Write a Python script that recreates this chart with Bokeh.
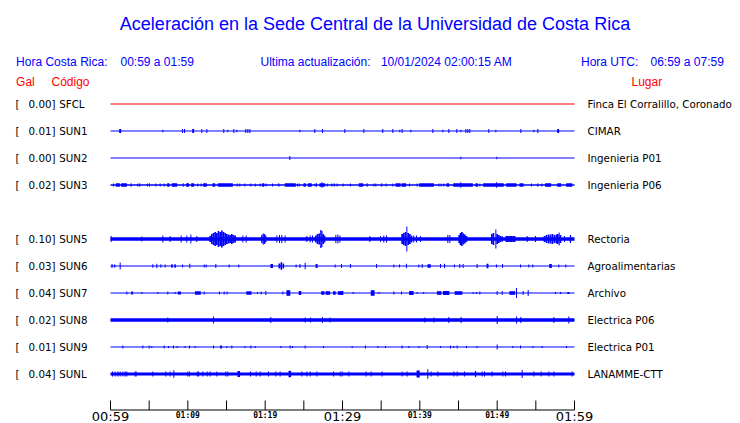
from bokeh.plotting import figure
from bokeh.models import Range1d
from bokeh.core.properties import value
from bokeh.embed import file_html
from bokeh.resources import INLINE

# ---------------- data ----------------
TITLE = "Aceleración en la Sede Central de la Universidad de Costa Rica"
HDR_CR_LABEL = "Hora Costa Rica:"
HDR_CR_TIME = "00:59 a 01:59"
HDR_UPD_LABEL = "Ultima actualización:"
HDR_UPD_TIME = "10/01/2024 02:00:15 AM"
HDR_UTC_LABEL = "Hora UTC:"
HDR_UTC_TIME = "06:59 a 07:59"

CODES = ["SFCL", "SUN1", "SUN2", "SUN3", "SUN5", "SUN6", "SUN7", "SUN8", "SUN9", "SUNL"]
ROWS = [0, 1, 2, 3, 5, 6, 7, 8, 9, 10]
GAL = [0.00, 0.01, 0.00, 0.02, 0.10, 0.03, 0.04, 0.02, 0.01, 0.04]
PLACES = ["Finca El Corralillo, Coronado", "CIMAR", "Ingenieria P01", "Ingenieria P06",
          "Rectoria", "Agroalimentarias", "Archivo", "Electrica P06", "Electrica P01",
          "LANAMME-CTT"]
TRACE_COLORS = ["#ff0000"] + ["#0000ff"] * 9
BASE_HALF = [0.5, 0.5, 0.5, 0.7, 1.8, 0.5, 0.5, 1.8, 0.5, 1.6]   # noise band half-amplitude

TICK_MIN = [0, 5, 10, 15, 20, 25, 30, 35, 40, 45, 50, 55, 60]
MAJOR_TICK_MIN = [0, 30, 60]
MAJOR_TICK_LABELS = ["00:59", "01:29", "01:59"]
MINOR_TICK_MIN = [10, 20, 40, 50]
MINOR_TICK_LABELS = ["01:09", "01:19", "01:39", "01:49"]

# events: (minute, duration seconds, half-amplitude)
SFCL_EV = []
SUN1_EV = [(1.25, 15, 2), (6.77, 4, 1.3), (9.31, 4, 2), (9.57, 4, 2), (10.69, 15, 2), (11.81, 4, 2),
           (12.46, 4, 2), (14.65, 4, 2), (15.17, 4, 1.3), (15.95, 4, 2), (16.33, 4, 1.3), (17.5, 4, 2),
           (17.76, 4, 2), (18.02, 4, 2), (24.48, 4, 1.3), (26.42, 4, 2), (27.41, 8, 2), (30.30, 4, 2),
           (32.76, 4, 2), (35.21, 4, 2), (36.51, 4, 2), (37.41, 4, 1.3), (37.71, 4, 2), (38.84, 4, 1.3),
           (41.68, 4, 2), (42.97, 4, 1.3), (43.75, 8, 2), (44.78, 4, 2), (45.30, 4, 1.3), (45.95, 4, 2),
           (46.21, 4, 2), (46.46, 4, 2), (48.92, 4, 2), (49.83, 4, 1.3), (53.06, 4, 2), (54.74, 4, 1.3),
           (55.26, 4, 2), (57.89, 15, 2)]
SUN2_EV = [(23.19, 4, 2), (45.30, 4, 1.3), (49.96, 4, 1.3)]
SUN3_EV = [(0.39, 4, 1.5), (0.95, 31, 1.8), (1.74, 44, 1.8), (2.67, 6, 1.8), (3.53, 4, 1.5), (3.79, 4, 1.8),
           (4.78, 4, 1.5), (5.04, 4, 1.8), (5.86, 4, 1.5), (6.42, 4, 1.5), (6.94, 4, 1.5), (7.48, 18, 1.8),
           (8.27, 41, 1.8), (9.4, 6, 1.8), (9.98, 23, 1.8), (10.62, 23, 1.8), (11.29, 4, 1.5), (11.72, 4, 1.5),
           (12.22, 28, 1.8), (13.36, 21, 1.8), (14.85, 117, 1.8), (16.38, 4, 1.5), (16.72, 4, 1.5),
           (17.37, 4, 1.5), (18.15, 4, 1.5), (18.71, 4, 1.5), (19.35, 4, 1.5), (19.74, 16, 1.8), (20.1, 4, 1.5),
           (20.95, 4, 1.5), (21.77, 6, 1.8), (23.25, 85, 1.8), (24.18, 4, 1.5), (24.4, 4, 1.5), (25.11, 18, 1.8),
           (25.77, 31, 1.8), (26.46, 4, 1.5), (26.64, 4, 1.8), (27.39, 44, 1.8), (27.35, 4, 2.8), (28.02, 4, 1.5),
           (28.62, 4, 1.5), (28.92, 4, 1.8), (29.31, 4, 1.5), (30.08, 4, 1.5), (31.03, 4, 1.5), (32.39, 34, 1.8),
           (33.19, 6, 1.8), (34.05, 4, 1.5), (34.31, 4, 1.5), (35.08, 4, 1.8), (35.64, 4, 1.5), (36.51, 4, 1.5),
           (37.18, 39, 1.8), (37.93, 36, 1.8), (38.66, 4, 1.5), (39.65, 4, 1.5), (40.86, 114, 1.8),
           (42.46, 4, 1.5), (42.76, 4, 1.5), (43.1, 4, 1.5), (43.62, 21, 1.8), (44.83, 62, 1.8), (45.3, 4, 2.8),
           (46.1, 90, 1.8), (47.35, 18, 1.8), (47.76, 4, 1.5), (49.52, 160, 1.8), (49.91, 6, 2.8),
           (51.83, 80, 1.8), (53.15, 31, 1.8), (54.44, 4, 1.5), (55.26, 4, 1.8), (55.77, 4, 1.5),
           (56.59, 47, 1.8), (58.02, 31, 1.8), (59.31, 47, 1.8)]
SUN5_EV = [(0.08, 4, 3), (4.05, 4, 2.5), (6.77, 4, 3.5), (7.71, 4, 3), (9.14, 4, 3.5), (9.87, 4, 3.5),
           (10.39, 4, 4.5), (11.16, 4, 3),
           (12.89, 13, 3), (13.1, 13, 5), (13.32, 13, 6), (13.53, 13, 7), (13.75, 13, 6), (13.96, 13, 8),
           (14.18, 13, 7), (14.4, 13, 8.5), (14.61, 13, 7), (14.83, 13, 6), (15.04, 13, 5), (15.26, 13, 4.5),
           (15.47, 13, 4), (15.69, 13, 5), (15.9, 13, 4), (16.12, 13, 3.5),
           (17.11, 4, 3.5), (17.54, 4, 3.5),
           (19.57, 10, 4), (19.74, 10, 5.5), (19.91, 10, 5), (20.08, 10, 3.5),
           (21.51, 4, 3.5), (21.85, 6, 4), (22.15, 6, 4), (22.58, 4, 3.5), (25.39, 4, 3), (25.82, 6, 3.5),
           (26.12, 6, 3.5),
           (26.55, 13, 3.5), (26.77, 13, 5), (26.98, 13, 5.5), (27.2, 10, 9), (27.33, 10, 8), (27.5, 13, 5),
           (27.67, 13, 3.5),
           (29.14, 8, 4), (29.4, 8, 4.5), (29.66, 8, 3.5),
           (33.53, 4, 3), (34.91, 4, 3), (35.34, 8, 3.5), (35.69, 8, 3.5),
           (37.71, 13, 5), (37.93, 13, 6), (38.15, 13, 7), (38.32, 6, 12.5), (38.49, 13, 6), (38.71, 13, 5),
           (38.92, 13, 3.5),
           (39.22, 8, 3.5), (39.57, 8, 3.5), (40.08, 4, 3), (43.62, 8, 4), (43.88, 8, 4),
           (45.09, 13, 4), (45.26, 13, 6), (45.43, 13, 7), (45.6, 13, 5.5), (45.82, 13, 4.5), (46.03, 13, 3),
           (49.31, 13, 5), (49.52, 13, 6), (49.83, 6, 9.5), (50.0, 13, 5), (50.21, 13, 4), (50.43, 13, 3),
           (50.65, 8, 3),
           (51.29, 25, 3), (51.72, 25, 3), (52.15, 25, 3), (53.88, 4, 3), (54.96, 4, 3),
           (56.12, 13, 3), (56.38, 13, 4), (56.64, 13, 4.5), (56.9, 13, 4.5), (57.15, 13, 5), (57.41, 13, 4),
           (57.67, 13, 4.5), (57.84, 13, 5), (58.02, 8, 6.5), (58.19, 13, 4), (58.71, 6, 3), (59.48, 10, 4)]
SUN6_EV = [(0.2, 10, 1.7), (0.55, 8, 1.7), (1.25, 5, 3.5), (5.47, 6, 1.7), (5.99, 6, 2.3), (6.51, 6, 1.7),
           (7.07, 4, 1.5), (7.95, 12, 1.7), (8.35, 12, 1.7), (9.31, 4, 1.5), (10.26, 6, 2.3), (12.11, 4, 1.5),
           (12.37, 4, 1.5), (13.62, 4, 2), (15.34, 4, 1.5), (16.59, 4, 1.5), (20.85, 20, 2), (21.85, 15, 2.5),
           (22.1, 12, 3.8), (22.35, 12, 2.5), (24.0, 4, 1.5), (24.5, 4, 2), (25.17, 4, 3.3), (26.65, 15, 2),
           (29.05, 4, 1.5), (29.87, 4, 2), (31.03, 6, 2), (34.4, 6, 2), (36.64, 4, 1.5), (37.37, 4, 1.5),
           (38.27, 6, 2.3), (39.87, 4, 1.5), (40.3, 4, 2), (41.2, 25, 1.8), (42.67, 6, 2), (43.19, 6, 2.3),
           (44.48, 4, 1.5), (45.17, 6, 2), (45.6, 6, 2), (47.41, 6, 2), (48.75, 15, 2.3), (49.91, 4, 1.5),
           (50.69, 6, 2), (53.02, 4, 1.5), (54.09, 4, 1.5), (54.61, 4, 1.5), (56.9, 20, 2), (57.97, 4, 1.5),
           (58.88, 4, 1.5)]
SUN7_EV = [(2.11, 4, 1.5), (2.8, 15, 1.5), (4.05, 4, 1), (6.12, 4, 1), (7.41, 4, 1.5), (8.36, 4, 1),
           (8.9, 25, 1.5), (11.3, 45, 1.8), (12.11, 4, 1.5), (14.09, 4, 1.5), (14.7, 4, 1.5), (15.08, 4, 1.5),
           (17.9, 40, 1.8), (19.01, 4, 1), (19.48, 4, 1.5), (20.08, 6, 2), (22.28, 4, 1.5), (23.0, 30, 2.8),
           (24.5, 20, 2), (27.45, 25, 1.8), (28.1, 35, 1.8), (28.95, 20, 1.8), (29.6, 25, 1.8), (29.9, 25, 2),
           (31.38, 4, 1), (33.9, 30, 2.8), (34.7, 4, 1), (36.64, 4, 1.5), (37.63, 4, 1.5), (38.9, 35, 2),
           (39.65, 4, 1), (40.5, 4, 1), (42.5, 35, 1.8), (43.4, 50, 2), (45.0, 60, 1.8), (46.9, 4, 1),
           (47.33, 4, 1), (47.76, 4, 1.5), (50.0, 6, 2), (50.65, 6, 2), (51.95, 45, 1.8), (52.5, 4, 5),
           (53.36, 4, 2), (54.01, 4, 3), (57.54, 4, 1), (58.19, 4, 1), (59.2, 15, 1)]
SUN8_EV = [(7.41, 4, 2.5), (13.32, 6, 3.5), (20.73, 4, 3), (25.17, 4, 2.5), (25.86, 4, 2.5), (27.41, 6, 3),
           (28.4, 4, 2.5), (40.65, 4, 2.5), (41.81, 4, 2.5), (43.75, 4, 3), (45.34, 4, 3), (50.0, 4, 4),
           (52.5, 6, 3.5), (53.06, 4, 3), (57.33, 4, 3), (59.27, 8, 3.5)]
SUN9_EV = [(1.59, 4, 1.5), (4.18, 4, 1.5), (5.0, 4, 1.5), (5.34, 4, 1), (6.94, 4, 1.5), (7.5, 4, 1),
           (8.15, 4, 1.5), (8.62, 4, 1), (9.65, 4, 1), (10.21, 4, 1.5), (10.95, 4, 1), (13.32, 4, 1.5),
           (14.3, 15, 1.5), (15.04, 4, 1), (15.69, 4, 1.5), (17.41, 4, 1), (18.15, 4, 1.5), (18.71, 4, 1),
           (22.03, 4, 1), (23.23, 4, 1.5), (23.53, 4, 1), (25.17, 4, 1.5), (27.54, 4, 1), (31.25, 4, 1),
           (32.97, 4, 1.5), (34.57, 4, 1), (35.56, 4, 1), (37.71, 4, 1.5), (38.58, 4, 1), (39.87, 4, 1),
           (40.95, 6, 2), (42.67, 4, 1), (43.96, 4, 1.5), (44.4, 4, 1), (44.83, 4, 1.5), (46.03, 4, 1),
           (47.41, 4, 1), (50.0, 8, 2.5), (52.02, 4, 1), (53.02, 4, 1.5), (54.65, 4, 1), (55.82, 4, 1),
           (58.96, 4, 1)]
SUNL_EV = [(0.26, 4, 2.5), (0.6, 4, 2.5), (0.95, 4, 2.5), (1.25, 4, 2.5), (1.59, 4, 2.5), (1.9, 4, 2.5),
           (2.11, 4, 2.5), (3.19, 4, 2.5), (3.32, 4, 2.5), (5.47, 4, 2.5), (7.15, 4, 2.5), (7.71, 4, 2.5),
           (8.19, 4, 3.7), (10.0, 4, 2.5), (10.21, 4, 2.5), (11.21, 4, 2.5), (11.38, 4, 2.5), (11.94, 4, 2.5),
           (12.5, 4, 2.5), (12.89, 4, 2.5), (13.75, 4, 2.5), (14.91, 4, 2.5), (15.17, 4, 2.5), (16.59, 20, 3),
           (18.1, 4, 2.5), (18.84, 4, 2.5), (19.35, 4, 2.5), (20.43, 4, 2.5), (21.38, 4, 2.5), (21.94, 4, 2.5),
           (23.19, 20, 3.2), (24.74, 4, 2.5), (25.39, 4, 2.5), (25.82, 4, 2.5), (26.68, 4, 2.5), (28.84, 4, 2.5),
           (29.7, 4, 2.5), (29.96, 4, 2.5), (30.82, 4, 2.5), (33.06, 4, 2.5), (33.71, 4, 2.5), (35.13, 4, 2.5),
           (37.71, 4, 2.5), (38.36, 4, 2.5), (39.78, 25, 3.5), (41.03, 4, 4.7), (41.46, 4, 2.5), (42.33, 4, 2.5),
           (44.4, 4, 2.5), (44.83, 4, 2.5), (45.77, 4, 2.5), (47.2, 10, 3), (48.06, 4, 2.5), (48.36, 4, 2.5),
           (49.35, 4, 2.5), (50.73, 4, 2.5), (51.08, 4, 2.5), (53.23, 4, 4), (54.74, 4, 2.5), (55.69, 4, 2.5),
           (56.68, 4, 2.5), (57.33, 4, 2.5), (59.7, 4, 2.5)]
EVENTS = [SFCL_EV, SUN1_EV, SUN2_EV, SUN3_EV, SUN5_EV, SUN6_EV, SUN7_EV, SUN8_EV, SUN9_EV, SUNL_EV]

# ---------------- layout ----------------
FIG_W, FIG_H = 740, 423
LEFT_PX = 110.0          # pixel where the window starts
SPAN_PX = 464.0          # pixels for the 60-minute window
ROW0_PX = 103.5          # pixel of first row
ROW_PX = 27.0            # row spacing
PPM = SPAN_PX / 60.0


def X(px):
    return (px - LEFT_PX) / PPM


def Y(py):
    return (py - ROW0_PX) / ROW_PX


p = figure(width=FIG_W, height=FIG_H,
           x_range=Range1d(X(0), X(FIG_W)), y_range=Range1d(Y(FIG_H), Y(0)),
           x_axis_type=None, y_axis_type=None, output_backend="svg",
           toolbar_location=None, min_border=0)
p.outline_line_color = None
p.grid.visible = False
p.background_fill_color = "white"
p.border_fill_color = "white"

SANS = value("Liberation Sans")
DJ = value("DejaVu Sans")
LBL = "10.3px"

# header
p.text(x=[X(374.5)], y=[Y(23)], text=[TITLE], text_font=SANS, text_font_size="18px",
       text_align="center", text_baseline="middle", text_color="#0000ff")
hdr_x = [15.6, 120, 260, 380.4, 580.5, 650]
hdr_t = [HDR_CR_LABEL, HDR_CR_TIME, HDR_UPD_LABEL, HDR_UPD_TIME, HDR_UTC_LABEL, HDR_UTC_TIME]
p.text(x=[X(v) for v in hdr_x], y=[Y(61)] * len(hdr_x), text=hdr_t, text_font=SANS,
       text_font_size="12px", text_align="left", text_baseline="middle", text_color="#0000ff")
p.text(x=[X(15.6), X(51), X(631)], y=[Y(81)] * 3, text=["Gal", "Código", "Lugar"], text_font=SANS,
       text_font_size="12px", text_align="left", text_baseline="middle", text_color="#ff0000")

# station labels
p.text(x=[0] * len(ROWS), y=ROWS, text=["["] * len(ROWS), x_offset=-95, text_font=DJ,
       text_font_size=LBL, text_align="left", text_baseline="middle", text_color="black")
p.text(x=[0] * len(ROWS), y=ROWS, text=["%.2f]" % g for g in GAL], x_offset=-55, text_font=DJ,
       text_font_size=LBL, text_align="right", text_baseline="middle", text_color="black")
p.text(x=[0] * len(ROWS), y=ROWS, text=CODES, x_offset=-51.3, text_font=DJ,
       text_font_size=LBL, text_align="left", text_baseline="middle", text_color="black")
p.text(x=[60] * len(ROWS), y=ROWS, text=PLACES, x_offset=13, text_font=DJ,
       text_font_size=LBL, text_align="left", text_baseline="middle", text_color="black")

# traces
min_w = 1.0 / PPM
for row, col, bh, ev in zip(ROWS, TRACE_COLORS, BASE_HALF, EVENTS):
    p.quad(left=[0], right=[60], top=[row - bh / ROW_PX], bottom=[row + bh / ROW_PX],
           fill_color=col, line_color=None)
    if ev:
        L, R, T, B = [], [], [], []
        for t, d, a in ev:
            w = max(d / 60.0, min_w)
            L.append(t - w / 2)
            R.append(t + w / 2)
            T.append(row - a / ROW_PX)
            B.append(row + a / ROW_PX)
        p.quad(left=L, right=R, top=T, bottom=B, fill_color=col, line_color=None)

# time axis (drawn manually for mixed label sizes)
AX_Y = Y(409.5)
TICK_TOP = Y(400)
p.segment(x0=[0], y0=[AX_Y], x1=[60], y1=[AX_Y], line_color="black", line_width=1)
p.segment(x0=TICK_MIN, y0=[AX_Y] * len(TICK_MIN), x1=TICK_MIN, y1=[TICK_TOP] * len(TICK_MIN),
          line_color="black", line_width=1)
p.text(x=MAJOR_TICK_MIN, y=[Y(416.3)] * 3, text=MAJOR_TICK_LABELS, text_font=DJ, text_font_size="13px",
       text_align="center", text_baseline="middle", text_color="black")
p.text(x=MINOR_TICK_MIN, y=[Y(415.3)] * 4, text=MINOR_TICK_LABELS, text_font=value("DejaVu Sans Mono"),
       text_font_style="bold", text_font_size="8px", text_align="center", text_baseline="middle",
       text_color="black")

open("out.html", "w").write(file_html(p, INLINE))
